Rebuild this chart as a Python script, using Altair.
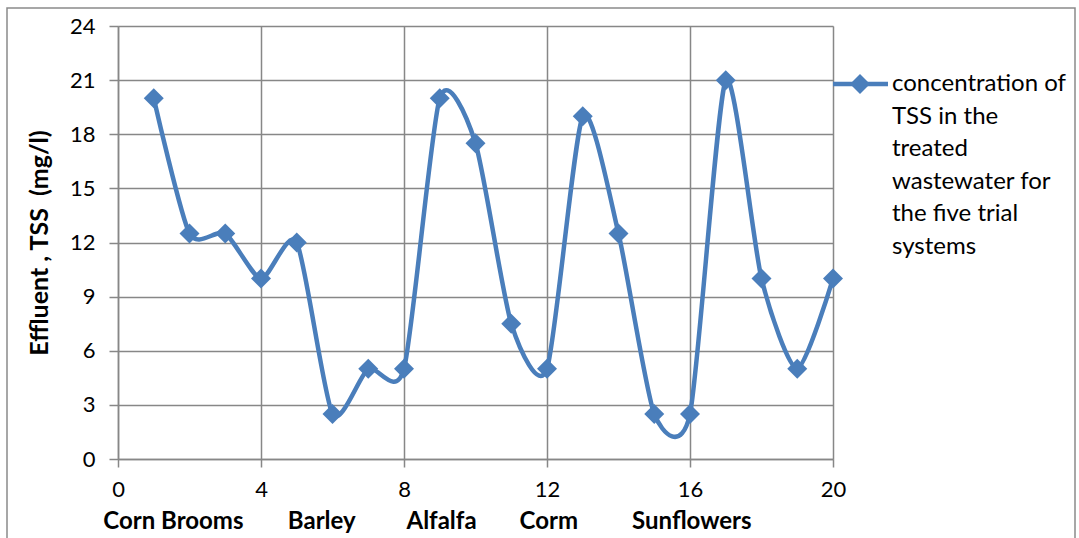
import altair as alt
import pandas as pd

# data
x_vals = list(range(1, 21))
tss = [20, 12.5, 12.5, 10, 12, 2.5, 5, 5, 20, 17.5, 7.5, 5, 19, 12.5, 2.5, 2.5, 21, 10, 5, 10]
cat_names = ["Corn Brooms", "Barley", "Alfalfa", "Corm", "Sunflowers"]
cat_pos = [1.55, 5.7, 9.05, 12.05, 16.05]
legend_lines = ["concentration of", "TSS in the", "treated", "wastewater for", "the five trial", "systems"]
x_ticks = [0, 4, 8, 12, 16, 20]
y_ticks = [0, 3, 6, 9, 12, 15, 18, 21, 24]

FONT = "Lato"
BLUE = "#4a7ebb"
GRID = "#878787"
W, H = 715, 433
L, T = 118, 26

df = pd.DataFrame({"x": x_vals, "tss": tss})
cats = pd.DataFrame({"name": cat_names, "pos": cat_pos})
one = pd.DataFrame({"k": [0]})

xs = alt.Scale(domain=[0, 20], nice=False)
ys = alt.Scale(domain=[0, 24], nice=False)

xaxis = alt.Axis(values=x_ticks, title=None, grid=True, gridColor=GRID, gridWidth=1.5,
                 domainColor=GRID, domainWidth=1.5, tickColor=GRID, tickWidth=1.5, tickSize=8,
                 labelFontSize=22, labelFont=FONT, labelColor="black", labelPadding=12,
                 labelFlush=False)
yaxis = alt.Axis(values=y_ticks, title="Effluent , TSS\u00a0 (mg/l)", grid=True, gridColor=GRID,
                 gridWidth=1.5, domainColor=GRID, domainWidth=1.5, tickColor=GRID, tickWidth=1.5,
                 tickSize=9, labelFontSize=22, labelFont=FONT, labelColor="black", labelPadding=14,
                 labelFlush=False,
                 titleFont=FONT, titleFontSize=25, titleFontWeight="bold", titleColor="black",
                 titlePadding=17)

base = alt.Chart(df)
line = base.mark_line(color=BLUE, strokeWidth=4.5, interpolate="cardinal", tension=0.3).encode(
    x=alt.X("x:Q", scale=xs, axis=xaxis),
    y=alt.Y("tss:Q", scale=ys, axis=yaxis),
)
pts = base.mark_point(shape="diamond", filled=True, color=BLUE, opacity=1, size=400).encode(
    x=alt.X("x:Q", scale=xs),
    y=alt.Y("tss:Q", scale=ys),
)

cat_text = alt.Chart(cats).mark_text(fontSize=24, font=FONT, fontWeight="bold", color="black",
                                     baseline="middle").encode(
    x=alt.X("pos:Q", scale=xs),
    y=alt.value(H + 63),
    text="name:N",
)

leg_rule = alt.Chart(one).mark_rule(color=BLUE, strokeWidth=4.5).encode(
    x=alt.value(833 - L), x2=alt.value(888 - L), y=alt.value(84 - T))
leg_pt = alt.Chart(one).mark_point(shape="diamond", filled=True, color=BLUE, opacity=1, size=400).encode(
    x=alt.value(860 - L), y=alt.value(84 - T))
leg_text = alt.Chart(one).mark_text(align="left", baseline="middle", fontSize=24, font=FONT,
                                    color="black", lineHeight=32.6).encode(
    x=alt.value(892 - L), y=alt.value(84 - T), text=alt.value(legend_lines))

border = alt.Chart(one).mark_rect(fill=None, stroke="#8a8a8a", strokeWidth=1.5).encode(
    x=alt.value(7 - L), x2=alt.value(1075 - L), y=alt.value(8 - T), y2=alt.value(600 - T))

chart = alt.layer(border, line, pts, cat_text, leg_rule, leg_pt, leg_text).properties(
    width=W, height=H,
    autosize=alt.AutoSizeParams(type="none"),
    padding={"left": L, "top": T, "right": 1079 - L - W, "bottom": 538 - T - H},
).configure_view(stroke=None).configure(background="white")

chart.save("out.html", embed_options={"renderer": "svg", "actions": False})
